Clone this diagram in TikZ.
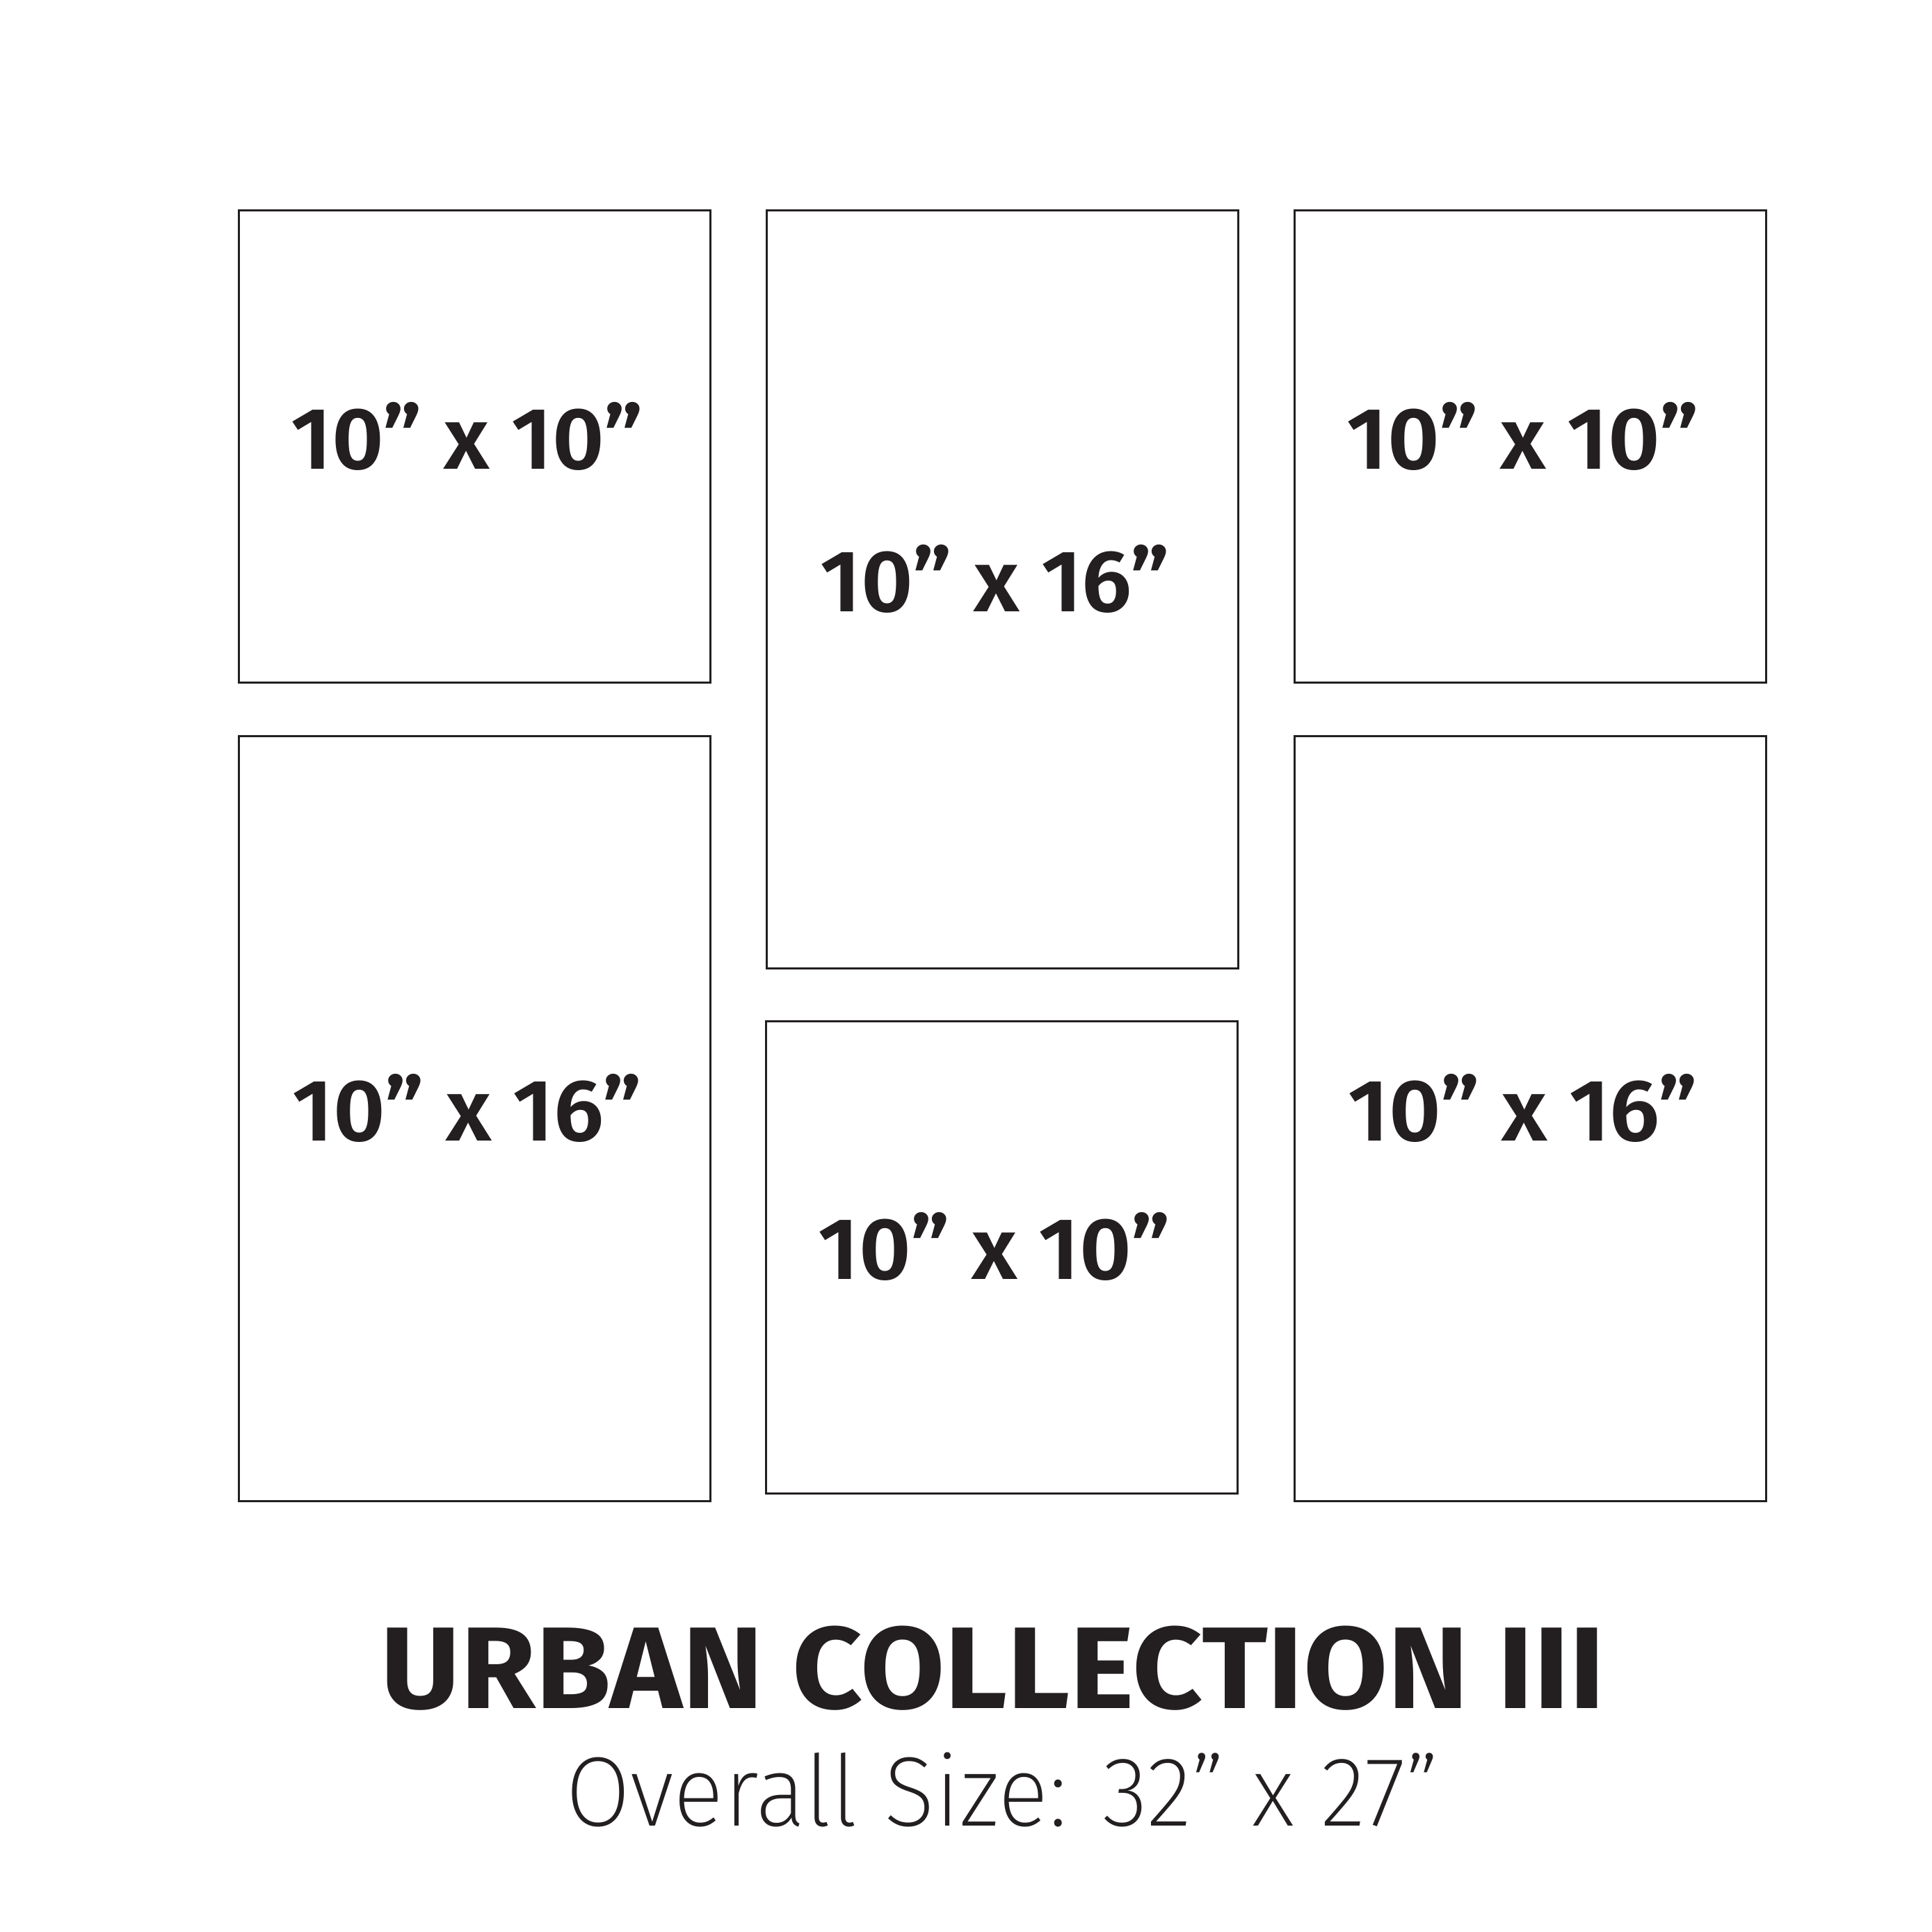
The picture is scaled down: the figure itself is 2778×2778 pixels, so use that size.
\documentclass[tikz,border=0pt]{standalone}
\usepackage{fontspec}
\usetikzlibrary{calc}
\newfontfamily\lblfont{Fira Sans SemiBold}[FakeStretch=1.025]
\newfontfamily\titlefont{Fira Sans Bold}[FakeStretch=1.052]
\newfontfamily\subfont{Fira Sans ExtraLight}[FakeStretch=0.953]
\definecolor{ink}{HTML}{231F20}
\begin{document}
\begin{tikzpicture}[x=1pt,y=-1pt,
  frame/.style={draw=ink,line width=3pt,inner sep=0pt,outer sep=0pt,minimum width=678pt},
  sq/.style={frame,minimum height=679pt},
  tall/.style={frame,minimum height=1090pt},
  taller/.style={frame,minimum height=1100pt},
  lbl/.style={text=ink,inner sep=0pt,anchor=base,font=\lblfont\fontsize{126}{130}\selectfont}]
\useasboundingbox (0,0) rectangle (2778,2778);
\node[sq]     (b1) at (682.5,642) {};
\node[tall]   (b2) at (1441.75,847.5) {};
\node[sq]     (b3) at (2200.75,642) {};
\node[taller] (b4) at (682.5,1608.25) {};
\node[sq]     (b5) at (1440.75,1807.75) {};
\node[taller] (b6) at (2200.75,1608.25) {};
\node[lbl] (l1) at ($(b1.center)+(-11,32)$) {10” x 10”};
\node[lbl] (l2) at ($(b2.center)+(-11,32)$) {10” x 16”};
\node[lbl] (l3) at ($(b3.center)+(-11,32)$) {10” x 10”};
\node[lbl] (l4) at ($(b4.center)+(-11,32)$) {10” x 16”};
\node[lbl] (l5) at ($(b5.center)+(-11,32)$) {10” x 10”};
\node[lbl] (l6) at ($(b6.center)+(-11,32)$) {10” x 16”};
\node[text=ink,inner sep=0pt,anchor=base,font=\titlefont\fontsize{167}{170}\selectfont] (title) at (1428,2456) {URBAN COLLECTION III};
\node[text=ink,inner sep=0pt,anchor=base,font=\subfont\fontsize{142}{145}\selectfont] (sub) at (1441.5,2625) {Overall Size: 32” x 27”};
\end{tikzpicture}
\end{document}
